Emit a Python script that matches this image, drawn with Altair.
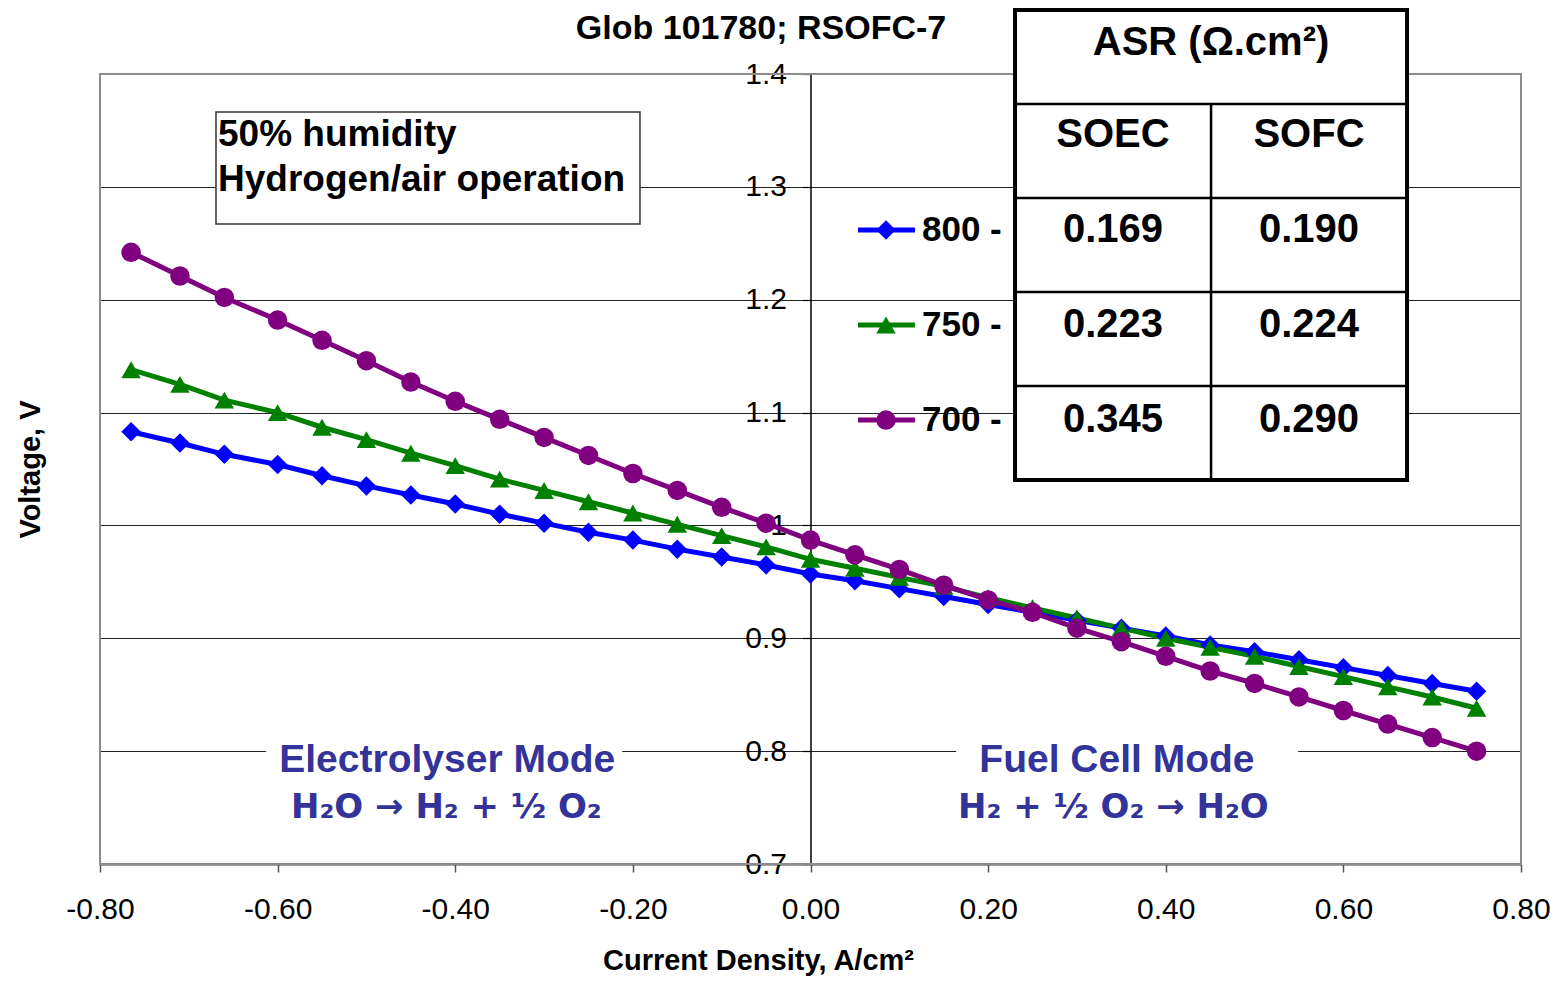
import altair as alt
import pandas as pd

# ---------------- data ----------------
current = [-0.765, -0.71, -0.66, -0.60, -0.55, -0.50, -0.45, -0.40, -0.35, -0.30,
           -0.25, -0.20, -0.15, -0.10, -0.05, 0.00, 0.05, 0.10, 0.15, 0.20,
           0.25, 0.30, 0.35, 0.40, 0.45, 0.50, 0.55, 0.60, 0.65, 0.70, 0.75]
v800 = [1.083, 1.073, 1.063, 1.054, 1.044, 1.035, 1.027, 1.019, 1.010, 1.002,
        0.994, 0.987, 0.979, 0.972, 0.965, 0.957, 0.951, 0.944, 0.937, 0.930,
        0.923, 0.916, 0.909, 0.902, 0.894, 0.888, 0.881, 0.874, 0.867, 0.860, 0.853]
v750 = [1.138, 1.125, 1.111, 1.100, 1.087, 1.076, 1.064, 1.053, 1.041, 1.031,
        1.021, 1.011, 1.001, 0.991, 0.981, 0.970, 0.962, 0.954, 0.946, 0.936,
        0.927, 0.918, 0.909, 0.900, 0.892, 0.884, 0.875, 0.866, 0.857, 0.848, 0.838]
v700 = [1.242, 1.221, 1.202, 1.182, 1.164, 1.146, 1.127, 1.110, 1.094, 1.078,
        1.062, 1.046, 1.031, 1.016, 1.002, 0.987, 0.974, 0.961, 0.947, 0.934,
        0.923, 0.909, 0.897, 0.884, 0.871, 0.860, 0.848, 0.836, 0.824, 0.812, 0.800]

series_names = ["800", "750", "700"]
series_colors = ["#0000FF", "#008000", "#800080"]
series_shapes = ["diamond", "triangle-up", "circle"]

x_ticks = [-0.8, -0.6, -0.4, -0.2, 0.0, 0.2, 0.4, 0.6, 0.8]
y_ticks = [0.7, 0.8, 0.9, 1.0, 1.1, 1.2, 1.3, 1.4]

# ASR table
asr_header = "ASR (Ω.cm²)"
asr_columns = ["SOEC", "SOFC"]
asr_soec = ["0.169", "0.223", "0.345"]
asr_sofc = ["0.190", "0.224", "0.290"]

FONT = "Liberation Sans"

rows = []
for name, vals in zip(series_names, [v800, v750, v700]):
    for xv, yv in zip(current, vals):
        rows.append({"series": name, "x": xv, "y": yv})
df = pd.DataFrame(rows)

xs = alt.Scale(domain=[-0.8, 0.8], nice=False, zero=False)
ys = alt.Scale(domain=[0.7, 1.4], nice=False, zero=False)
col = alt.Scale(domain=series_names, range=series_colors)
shp = alt.Scale(domain=series_names, range=series_shapes)

x_axis = alt.Axis(
    values=x_ticks,
    labelExpr="replace(format(datum.value, '.2f'), '\u2212', '-')",
    labelFont=FONT, labelFontSize=30, labelColor="black", labelPadding=22,
    labelFlush=False, labelOverlap=False,
    tickSize=8, tickColor="#555555", tickWidth=1.5,
    domainColor="#444444", domainWidth=2, grid=False,
    title="Current Density, A/cm²", titleFont=FONT, titleFontSize=29,
    titleFontWeight="bold", titleColor="black",
    titleX=658, titleY=96, titleBaseline="middle", titleAlign="center",
)
y_axis = alt.Axis(
    values=y_ticks, format="~g", offset=-710.5,
    labelFont=FONT, labelFontSize=30, labelColor="black", labelPadding=16,
    labelFlush=False, labelOverlap=False,
    tickSize=8, tickColor="black", tickWidth=1.2,
    domainColor="black", domainWidth=1.5,
    grid=True, gridColor="#222222", gridWidth=1.2,
    title="Voltage, V", titleFont=FONT, titleFontSize=29, titleFontWeight="bold",
    titleColor="black", titleX=-780, titleY=395, titleAngle=-90,
    titleBaseline="middle", titleAlign="center",
)


def X(field="x"):
    return alt.X(f"{field}:Q", scale=xs, axis=x_axis)


def Y(field="y"):
    return alt.Y(f"{field}:Q", scale=ys, axis=y_axis)


lines = alt.Chart(df).mark_line(strokeWidth=5).encode(
    x=X(), y=Y(),
    color=alt.Color("series:N", scale=col, legend=None),
)
points = alt.Chart(df).mark_point(filled=True, opacity=1, size=380).encode(
    x=X(), y=Y(),
    color=alt.Color("series:N", scale=col, legend=None),
    shape=alt.Shape("series:N", scale=shp, legend=None),
)

# plot border
border = alt.Chart(pd.DataFrame({"x": [-0.8], "x2": [0.8], "y": [0.7], "y2": [1.4]})).mark_rect(
    fillOpacity=0, stroke="#8c8c8c", strokeWidth=2
).encode(x=X(), x2="x2:Q", y=Y(), y2="y2:Q")

# white boxes behind the mode texts
mode_boxes = alt.Chart(pd.DataFrame({
    "x": [-0.613, 0.164], "x2": [-0.212, 0.549], "y": [0.726, 0.726], "y2": [0.81, 0.81]
})).mark_rect(fill="white").encode(x=X(), x2="x2:Q", y=Y(), y2="y2:Q")

mode_titles = alt.Chart(pd.DataFrame({
    "x": [-0.409, 0.345],
    "y": [0.7922, 0.7922],
    "t": ["Electrolyser Mode", "Fuel Cell Mode"],
})).mark_text(font=FONT, fontSize=39, fontWeight="bold", color="#333399",
              align="center", baseline="middle").encode(x=X(), y=Y(), text="t:N")
mode_eqs = alt.Chart(pd.DataFrame({
    "x": [-0.410, 0.341],
    "y": [0.7496, 0.7496],
    "t": ["H₂O → H₂ + ½ O₂", "H₂ + ½ O₂ → H₂O"],
})).mark_text(font="DejaVu Sans", fontSize=34, fontWeight="bold", color="#333399",
              align="center", baseline="middle").encode(x=X(), y=Y(), text="t:N")

# humidity box
hum_box = alt.Chart(pd.DataFrame({"x": [-0.6694], "x2": [-0.192], "y": [1.2671], "y2": [1.3663]})).mark_rect(
    fill="white", stroke="#333333", strokeWidth=1.5
).encode(x=X(), x2="x2:Q", y=Y(), y2="y2:Q")
hum_text = alt.Chart(pd.DataFrame({
    "x": [-0.6671, -0.6671], "y": [1.346, 1.3061],
    "t": ["50% humidity", "Hydrogen/air operation"],
})).mark_text(font=FONT, fontSize=37, fontWeight="bold", color="black",
              align="left", baseline="middle").encode(x=X(), y=Y(), text="t:N")

# ASR table
tx_l, tx_m, tx_r = 0.2303, 0.451, 0.6717
ty_top, ty_bot = 1.4567, 1.0403
row_lines = [1.3734, 1.2901, 1.2068, 1.1236]
table_box = alt.Chart(pd.DataFrame({"x": [tx_l], "x2": [tx_r], "y": [ty_bot], "y2": [ty_top]})).mark_rect(
    fill="white", stroke="black", strokeWidth=4
).encode(x=X(), x2="x2:Q", y=Y(), y2="y2:Q")
table_rules = alt.Chart(pd.DataFrame({
    "x": [tx_l] * 4 + [tx_m],
    "x2": [tx_r] * 4 + [tx_m],
    "y": row_lines + [row_lines[0]],
    "y2": row_lines + [ty_bot],
})).mark_rule(color="black", strokeWidth=2.5).encode(x=X(), x2="x2:Q", y=Y(), y2="y2:Q")

row_y = [1.2618, 1.1776, 1.0934]
t_x = [tx_m] + [0.3406, 0.5613] + [0.3406] * 3 + [0.5613] * 3
t_y = [1.4275] + [1.346, 1.346] + row_y + row_y
t_t = [asr_header] + asr_columns + asr_soec + asr_sofc
table_text = alt.Chart(pd.DataFrame({"x": t_x, "y": t_y, "t": t_t})).mark_text(
    font=FONT, fontSize=40, fontWeight="bold", color="black", align="center", baseline="middle"
).encode(x=X(), y=Y(), text="t:N")

# legend beside the table
leg_df = pd.DataFrame({
    "series": series_names,
    "x": [0.0535] * 3, "x2": [0.1177] * 3, "xm": [0.085] * 3, "xt": [0.1255] * 3,
    "y": row_y, "t": [s + " -" for s in series_names],
})
leg_lines = alt.Chart(leg_df).mark_rule(strokeWidth=5).encode(
    x=X(), x2="x2:Q", y=Y(), color=alt.Color("series:N", scale=col, legend=None))
leg_pts = alt.Chart(leg_df).mark_point(filled=True, opacity=1, size=380).encode(
    x=X("xm"), y=Y(), color=alt.Color("series:N", scale=col, legend=None),
    shape=alt.Shape("series:N", scale=shp, legend=None))
leg_text = alt.Chart(leg_df).mark_text(
    font=FONT, fontSize=35, fontWeight="bold", color="black", align="left", baseline="middle"
).encode(x=X("xt"), y=Y(), text="t:N")

title = alt.Chart(pd.DataFrame({"x": [-0.0557], "y": [1.4395], "t": ["Glob 101780; RSOFC-7"]})).mark_text(
    font=FONT, fontSize=34, fontWeight="bold", color="black", align="center", baseline="middle"
).encode(x=X(), y=Y(), text="t:N")

chart = alt.layer(
    lines, mode_boxes, border, points, mode_titles, mode_eqs, hum_box, hum_text,
    table_box, table_rules, table_text, leg_lines, leg_pts, leg_text, title,
).properties(
    width=1421, height=790,
    autosize=alt.AutoSizeParams(type="none"),
    padding={"left": 92, "top": 66, "right": 34, "bottom": 115},
    background="white",
).configure_view(strokeWidth=0)

chart.save("out.html", embed_options={"renderer": "svg", "actions": False})
